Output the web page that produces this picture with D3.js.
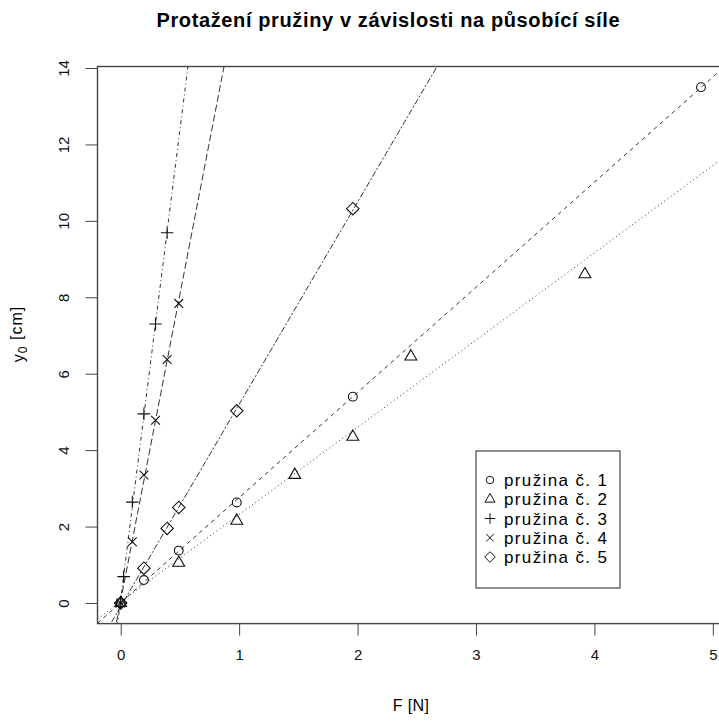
<!DOCTYPE html>
<html>
<head>
<meta charset="utf-8">
<script src="https://cdn.jsdelivr.net/npm/d3@7"></script>
<style>
  body { margin: 0; background: #fff; }
  svg { font-family: "Liberation Sans", Arial, sans-serif; }
</style>
</head>
<body>
<div id="vis"></div>
<script>
// measured values, F in newtons and extension in cm
var F1 = [0, 0.196, 0.49, 0.98, 1.96, 4.9],
    Y1 = [0, 0.6, 1.37, 2.63, 5.4, 13.5];
var F2 = [0, 0.49, 0.98, 1.47, 1.96, 2.45, 3.92],
    Y2 = [0, 1.05, 2.15, 3.35, 4.35, 6.45, 8.6];
var F3 = [0, 0.0245, 0.098, 0.196, 0.294, 0.392],
    Y3 = [0, 0.69, 2.64, 4.95, 7.3, 9.69];
var F4 = [0, 0.098, 0.196, 0.294, 0.392, 0.49],
    Y4 = [0, 1.6, 3.35, 4.78, 6.37, 7.84];
var F5 = [0, 0.196, 0.392, 0.49, 0.98, 1.96],
    Y5 = [0, 0.91, 1.95, 2.5, 5.03, 10.32];

var labels = ["pružina č. 1", "pružina č. 2", "pružina č. 3", "pružina č. 4", "pružina č. 5"];
var xTicks = [0, 1, 2, 3, 4, 5];
var yTicks = [0, 2, 4, 6, 8, 10, 12, 14];

var width = 719, height = 722;
var margin = {top: 66.5, left: 97.5},
    plotW = 626.7,
    plotH = 557.1;

var svg = d3.select("#vis").append("svg")
  .attr("width", width)
  .attr("height", height);

var x = d3.scaleLinear().domain([-0.196, 5.096]).range([0, plotW]),
    y = d3.scaleLinear().domain([-0.54, 14.04]).range([plotH, 0]);

var g = svg.append("g")
  .attr("transform", "translate(" + margin.left + "," + margin.top + ")");

g.append("clipPath").attr("id", "clip")
  .append("rect").attr("width", plotW).attr("height", plotH);

var series = [
  {F: F1, Y: Y1, pch: 1, dash: "4,4"},
  {F: F2, Y: Y2, pch: 2, dash: "1,3"},
  {F: F3, Y: Y3, pch: 3, dash: "1,3,4,3"},
  {F: F4, Y: Y4, pch: 4, dash: "7,3"},
  {F: F5, Y: Y5, pch: 5, dash: "2,2,6,2"}
];

// least squares fit like abline(lm(y ~ F))
function fit(xs, ys) {
  var mx = d3.mean(xs), my = d3.mean(ys), sxy = 0, sxx = 0;
  xs.forEach(function(v, i) { sxy += (v - mx) * (ys[i] - my); sxx += (v - mx) * (v - mx); });
  var b = sxy / sxx;
  return {a: my - b * mx, b: b};
}

// R style point symbols
var R = 4.4;
function symbol(pch, s) {
  s = s || 1;
  var r = R * s;
  if (pch === 1) return d3.symbol().type(d3.symbolCircle).size(Math.PI * r * r)();
  if (pch === 2) {
    var t0 = 1.5551 * r, t1 = 1.3468 * r, t2 = 0.7776 * r;
    return "M0," + (-t0) + "L" + t1 + "," + t2 + "L" + (-t1) + "," + t2 + "Z";
  }
  if (pch === 3) { var c = Math.SQRT2 * r; return "M" + (-c) + ",0H" + c + "M0," + (-c) + "V" + c; }
  if (pch === 4) return "M" + (-r) + "," + (-r) + "L" + r + "," + r + "M" + (-r) + "," + r + "L" + r + "," + (-r);
  if (pch === 5) { var d = Math.SQRT2 * r; return "M0," + (-d) + "L" + d + ",0L0," + d + "L" + (-d) + ",0Z"; }
}

var lines = g.append("g").attr("clip-path", "url(#clip)");
series.forEach(function(s) {
  var f = fit(s.F, s.Y);
  var dom = x.domain();
  lines.append("line")
    .attr("x1", x(dom[0])).attr("y1", y(f.a + f.b * dom[0]))
    .attr("x2", x(dom[1])).attr("y2", y(f.a + f.b * dom[1]))
    .attr("stroke", "#333")
    .attr("stroke-width", 1)
    .attr("stroke-dasharray", s.dash);

  g.selectAll(null)
    .data(s.F.map(function(v, i) { return [v, s.Y[i]]; }))
    .enter().append("path")
    .attr("transform", function(d) { return "translate(" + x(d[0]) + "," + y(d[1]) + ")"; })
    .attr("d", symbol(s.pch))
    .attr("fill", "none")
    .attr("stroke", "#111")
    .attr("stroke-width", 1.1);
});

// axes
var xAxis = g.append("g")
  .attr("transform", "translate(0," + plotH + ")")
  .call(d3.axisBottom(x).tickValues(xTicks).tickFormat(d3.format("d")).tickSize(12).tickPadding(14));
xAxis.select(".domain").remove();
xAxis.selectAll("text").style("font-size", "15px").attr("fill", "#111");
xAxis.selectAll("line").attr("stroke", "#444");

var yAxis = g.append("g")
  .call(d3.axisLeft(y).tickValues(yTicks).tickFormat(d3.format("d")).tickSize(12));
yAxis.select(".domain").remove();
yAxis.selectAll("line").attr("stroke", "#444");
yAxis.selectAll("text")
  .style("font-size", "15px")
  .attr("fill", "#111")
  .attr("x", null).attr("dy", null)
  .attr("text-anchor", "middle")
  .attr("transform", "translate(-29,0) rotate(-90)");

// box around the plot region
g.append("rect")
  .attr("width", plotW).attr("height", plotH)
  .attr("fill", "none")
  .attr("stroke", "#444")
  .attr("stroke-width", 1.4);

// titles
svg.append("text")
  .attr("x", 388).attr("y", 27)
  .attr("text-anchor", "middle")
  .attr("textLength", 463)
  .attr("lengthAdjust", "spacing")
  .style("font-size", "20px").style("font-weight", "bold")
  .text("Protažení pružiny v závislosti na působící síle");

svg.append("text")
  .attr("x", margin.left + plotW / 2).attr("y", 711)
  .attr("text-anchor", "middle")
  .attr("textLength", 36)
  .style("font-size", "16px")
  .text("F [N]");

var yl = svg.append("text")
  .attr("transform", "translate(24," + 334 + ") rotate(-90)")
  .attr("text-anchor", "middle")
  .style("font-size", "16px")
  .style("letter-spacing", "1px");
yl.append("tspan").text("y");
yl.append("tspan").attr("dy", "0.25em").style("font-size", "12px").text("0");
yl.append("tspan").attr("dy", "-0.3em").text(" [cm]");

// legend
var lg = svg.append("g").attr("transform", "translate(476,451)");
lg.append("rect")
  .attr("width", 144).attr("height", 137)
  .attr("fill", "#fff")
  .attr("stroke", "#444")
  .attr("stroke-width", 1.2);

var rowY = d3.scalePoint().domain(labels).range([29, 106]);
series.forEach(function(s, i) {
  var yy = rowY(labels[i]);
  lg.append("path")
    .attr("transform", "translate(14," + yy + ")")
    .attr("d", symbol(s.pch, 0.85))
    .attr("fill", "none")
    .attr("stroke", "#111");
  lg.append("text")
    .attr("x", 28).attr("y", yy)
    .attr("dy", "0.36em")
    .attr("textLength", 103)
    .attr("lengthAdjust", "spacing")
    .style("font-size", "17px")
    .text(labels[i]);
});
</script>
</body>
</html>
